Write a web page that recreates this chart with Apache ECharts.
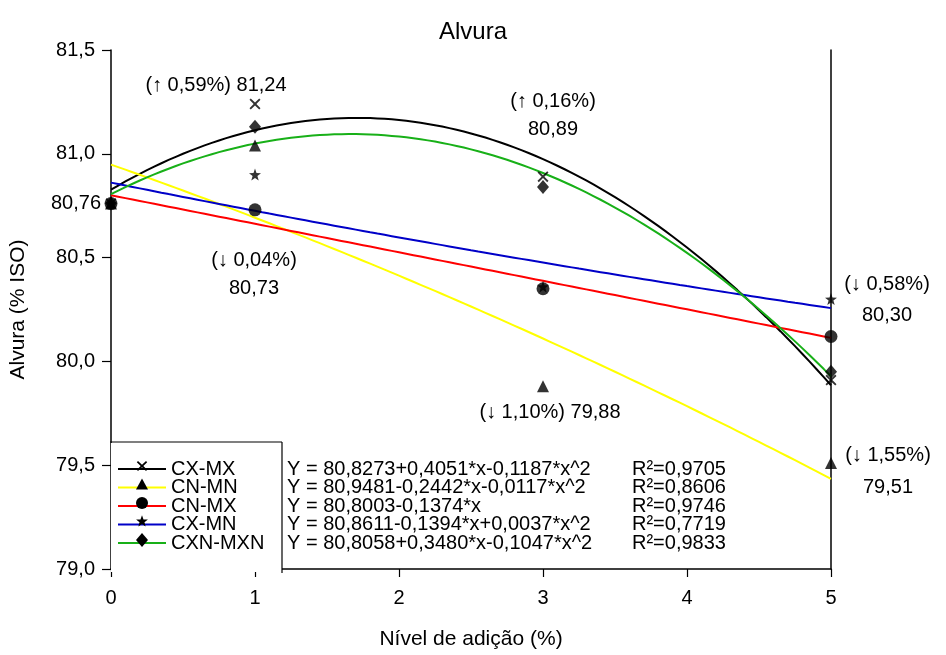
<!DOCTYPE html>
<html>
<head>
<meta charset="utf-8">
<script src="https://cdn.jsdelivr.net/npm/echarts@6/dist/echarts.min.js"></script>
<style>
  html, body { margin: 0; padding: 0; background: #fff; }
  #chart { width: 946px; height: 655px; }
</style>
</head>
<body>
<div id="chart"></div>
<script>
// Addition levels (%) and measured brightness (% ISO) for each treatment
const xLevels = [0, 1, 3, 5];
const seriesNames = ['CX-MX', 'CN-MN', 'CN-MX', 'CX-MN', 'CXN-MXN'];
const cxMx   = [80.76, 81.24, 80.89, 79.91];
const cnMn   = [80.76, 81.04, 79.88, 79.51];
const cnMx   = [80.76, 80.73, 80.35, 80.12];
const cxMn   = [80.76, 80.90, 80.36, 80.30];
const cxnMxn = [80.76, 81.13, 80.84, 79.95];

// Regression coefficients (constant, x, x^2) and R²
const fitCxMx   = [80.8273, 0.4051, -0.1187];
const fitCnMn   = [80.9481, -0.2442, -0.0117];
const fitCnMx   = [80.8003, -0.1374];
const fitCxMn   = [80.8611, -0.1394, 0.0037];
const fitCxnMxn = [80.8058, 0.3480, -0.1047];
const rSquared  = [0.9705, 0.8606, 0.9746, 0.7719, 0.9833];

// Axis ranges
const xRange = [0, 5, 1];
const yRange = [79, 81.5, 0.5];

// Value callouts: series, point index, change relative to control
const calloutSeries = ['CX-MX', 'CX-MX', 'CN-MX', 'CN-MN', 'CX-MN', 'CN-MN', 'CN-MX'];
const calloutIndex  = [1, 2, 1, 2, 3, 3, 0];
const calloutChange = ['↑ 0,59%', '↑ 0,16%', '↓ 0,04%', '↓ 1,10%', '↓ 0,58%', '↓ 1,55%', ''];

// ---- styling / layout (not data) ----
const FONT = 'Arial, "Liberation Sans", Helvetica, sans-serif';
const lineColors = ['#000000', '#ffff00', '#ff0000', '#0000c8', '#18b018'];
const markerKinds = ['cross', 'triangle', 'circle', 'star', 'diamond'];
const calloutLayout = [
  { mode: 'inline', off: [-39, -18] },
  { mode: 'stack',  off: [10, -61], lh: 28 },
  { mode: 'stack',  off: [-1, 65],  lh: 28 },
  { mode: 'inline', off: [7, 26] },
  { mode: 'stack',  off: [56, 1],   lh: 31 },
  { mode: 'stack',  off: [57, 8],   lh: 32 },
  { mode: 'value',  off: [-35, 0] }
];

const values = { 'CX-MX': cxMx, 'CN-MN': cnMn, 'CN-MX': cnMx, 'CX-MN': cxMn, 'CXN-MXN': cxnMxn };
const fits = [fitCxMx, fitCnMn, fitCnMx, fitCxMn, fitCxnMxn];
const comma = (v, d) => v.toFixed(d).replace('.', ',');

const crossPath = 'path://M-4,-5 L0,-1.3 L4,-5 L5.2,-3.8 L1.3,0 L5.2,3.8 L4,5 L0,1.3 L-4,5 L-5.2,3.8 L-1.3,0 L-5.2,-3.8 Z';
const starPath = 'path://M0,-10 L2.35,-3.24 L9.51,-3.09 L3.8,1.24 L5.88,8.09 L0,4.2 L-5.88,8.09 L-3.8,1.24 L-9.51,-3.09 L-2.35,-3.24 Z';
const seriesSymbol = { cross: crossPath, triangle: 'triangle', circle: 'circle', star: starPath, diamond: 'diamond' };
const seriesSymbolSize = { cross: 11, triangle: 12, circle: 13, star: 12, diamond: [12, 14] };

function polyOf(kind, cx, cy) {
  let pts;
  if (kind === 'triangle') pts = [[0, -6], [6, 5], [-6, 5]];
  else if (kind === 'diamond') pts = [[0, -7], [6, 0], [0, 7], [-6, 0]];
  else if (kind === 'star') {
    pts = [];
    for (let i = 0; i < 10; i++) {
      const r = i % 2 ? 2.6 : 6.2;
      const a = -Math.PI / 2 + i * Math.PI / 5;
      pts.push([r * Math.cos(a), r * Math.sin(a)]);
    }
  } else if (kind === 'cross') {
    pts = [[-4,-5],[0,-1.3],[4,-5],[5.2,-3.8],[1.3,0],[5.2,3.8],[4,5],[0,1.3],[-4,5],[-5.2,3.8],[-1.3,0],[-5.2,-3.8]];
  }
  if (kind === 'circle') return { type: 'circle', shape: { cx: cx, cy: cy, r: 6 }, style: { fill: '#000' }, z: 20 };
  return { type: 'polygon', shape: { points: pts.map(p => [cx + p[0], cy + p[1]]) }, style: { fill: '#000' }, z: 20 };
}

function equationText(c) {
  let s = 'Y = ' + comma(c[0], 4);
  const terms = ['*x', '*x^2'];
  for (let i = 1; i < c.length; i++) {
    s += (c[i] < 0 ? '-' : '+') + comma(Math.abs(c[i]), 4) + terms[i - 1];
  }
  return s;
}

function fitCurve(c) {
  const pts = [];
  for (let i = 0; i <= 100; i++) {
    const x = xRange[0] + (xRange[1] - xRange[0]) * i / 100;
    let y = 0;
    for (let k = 0; k < c.length; k++) y += c[k] * Math.pow(x, k);
    pts.push([x, y]);
  }
  return pts;
}

const series = [];
seriesNames.forEach((name, i) => {
  series.push({
    name: name + ' fit', type: 'line', data: fitCurve(fits[i]), showSymbol: false,
    lineStyle: { color: lineColors[i], width: 2 }, z: 2, silent: true, animation: false
  });
});
// markers: circles drawn last so they sit on top
[0, 1, 3, 4, 2].forEach(i => {
  const name = seriesNames[i];
  const kind = markerKinds[i];
  series.push({
    name: name, type: 'scatter', data: xLevels.map((x, k) => [x, values[name][k]]),
    symbol: seriesSymbol[kind], symbolSize: seriesSymbolSize[kind],
    itemStyle: { color: '#000' }, z: 5, clip: false, silent: true, animation: false
  });
});
// value callouts
series.push({
  name: 'callouts', type: 'scatter', symbolSize: 1, z: 6, silent: true, clip: false, animation: false,
  itemStyle: { color: 'transparent' },
  data: calloutSeries.map((name, i) => {
    const v = values[name][calloutIndex[i]];
    const lay = calloutLayout[i];
    let text;
    if (lay.mode === 'inline') text = '(' + calloutChange[i] + ') ' + comma(v, 2);
    else if (lay.mode === 'stack') text = '(' + calloutChange[i] + ')\n' + comma(v, 2);
    else text = comma(v, 2);
    return {
      value: [xLevels[calloutIndex[i]], v],
      label: {
        show: true, position: [0.5, 0.5], formatter: text, offset: lay.off,
        align: 'center', verticalAlign: 'middle', lineHeight: lay.lh || 22,
        fontFamily: FONT, fontSize: 20, color: '#000', opacity: 1,
        textBorderWidth: 0
      }
    };
  })
});

// legend block drawn with graphics
const rowY = [469, 487.5, 506, 524.5, 543];
const graphics = [
  { type: 'line', shape: { x1: 110, y1: 442, x2: 282, y2: 442 }, style: { stroke: '#000', lineWidth: 1.2 }, z: 20 },
  { type: 'line', shape: { x1: 282, y1: 442, x2: 282, y2: 573 }, style: { stroke: '#000', lineWidth: 1.2 }, z: 20 },
  { type: 'rect', shape: { x: 111, y: 443, width: 171, height: 129 }, style: { fill: '#fff' }, z: 10 }
];
seriesNames.forEach((name, i) => {
  const y = rowY[i];
  graphics.push({ type: 'line', shape: { x1: 118, y1: y, x2: 166, y2: y }, style: { stroke: lineColors[i], lineWidth: 2 }, z: 20 });
  graphics.push(polyOf(markerKinds[i], 142, y - 3));
  graphics.push({ type: 'text', x: 171, y: y, style: { text: name, font: '20px ' + FONT, fill: '#000', textVerticalAlign: 'middle' }, z: 20 });
  graphics.push({ type: 'text', x: 287, y: y, style: { text: equationText(fits[i]), font: '20px ' + FONT, fill: '#000', textVerticalAlign: 'middle' }, z: 20 });
  graphics.push({ type: 'text', x: 632, y: y, style: { text: 'R²=' + comma(rSquared[i], 4), font: '20px ' + FONT, fill: '#000', textVerticalAlign: 'middle' }, z: 20 });
});

const chart = echarts.init(document.getElementById('chart'), null, { renderer: 'canvas' });
chart.setOption({
  animation: false,
  backgroundColor: '#fff',
  title: {
    text: 'Alvura', left: 'center', top: 15,
    textStyle: { fontFamily: FONT, fontSize: 24, fontWeight: 'normal', color: '#000' }
  },
  grid: { left: 110, right: 115, top: 50, bottom: 82, containLabel: false },
  xAxis: {
    type: 'value', min: xRange[0], max: xRange[1], interval: xRange[2],
    name: 'Nível de adição (%)', nameLocation: 'middle', nameGap: 60,
    nameTextStyle: { fontFamily: FONT, fontSize: 21, color: '#000' },
    axisLine: { onZero: false, lineStyle: { color: '#000', width: 1.5 } },
    axisTick: { length: 8, lineStyle: { color: '#000', width: 1.2 } },
    axisLabel: { fontFamily: FONT, fontSize: 20, color: '#000', margin: 19 },
    splitLine: { show: false }
  },
  yAxis: [{
    type: 'value', min: yRange[0], max: yRange[1], interval: yRange[2],
    name: 'Alvura (% ISO)', nameLocation: 'middle', nameGap: 82, nameRotate: 90,
    nameTextStyle: { fontFamily: FONT, fontSize: 21, color: '#000' },
    axisLine: { show: true, onZero: false, lineStyle: { color: '#000', width: 1.5 } },
    axisTick: { show: true, length: 9, lineStyle: { color: '#000', width: 1.2 } },
    axisLabel: { fontFamily: FONT, fontSize: 20, color: '#000', margin: 16, formatter: v => comma(v, 1) },
    splitLine: { show: false }
  }, {
    type: 'value', min: yRange[0], max: yRange[1], interval: yRange[2], position: 'right',
    axisLine: { show: true, onZero: false, lineStyle: { color: '#000', width: 1.5 } },
    axisTick: { show: false }, axisLabel: { show: false }, splitLine: { show: false }
  }],
  graphic: graphics,
  series: series
});
</script>
</body>
</html>
